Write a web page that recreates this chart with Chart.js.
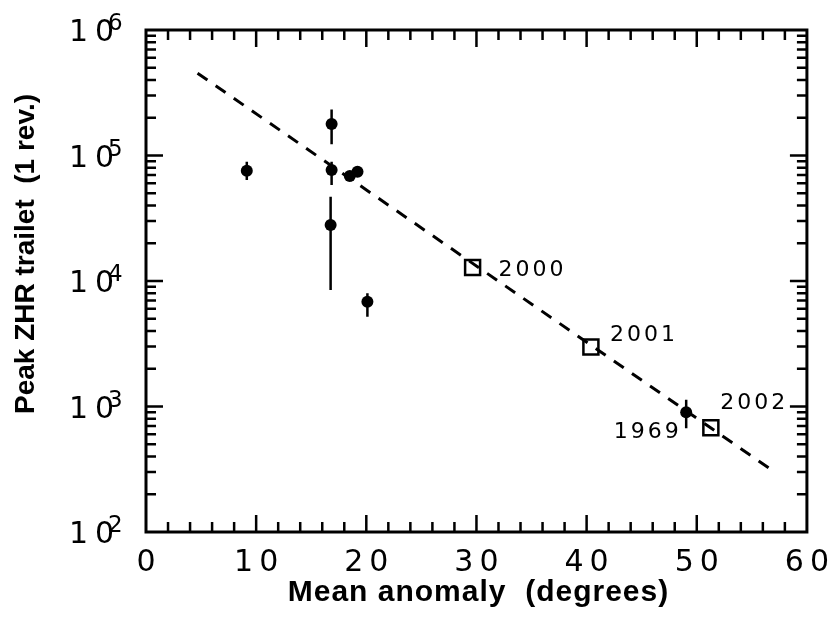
<!DOCTYPE html>
<html>
<head>
<meta charset="utf-8">
<script src="https://cdn.jsdelivr.net/npm/chart.js@4.4.1/dist/chart.umd.min.js"></script>
<style>
  html, body { margin: 0; padding: 0; background: #fff; }
  canvas { display: block; }
</style>
</head>
<body>
<canvas id="chart" width="839" height="622"></canvas>
<script>
// Observed trailet outbursts: mean anomaly (deg) against peak ZHR of the 1-revolution trailet
const obsAnomaly = [9.15, 16.85, 16.85, 16.76, 18.5, 19.2, 20.1, 49.04];
const obsZhr     = [75700, 178000, 76600, 27900, 68700, 74300, 6840, 899];
const obsZhrLow  = [63800, 123000, 58200, 8470, null, null, 5200, 670];
const obsZhrHigh = [89300, 233000, 89300, 47000, null, null, 7980, 1130];
const obsTags    = ['', '', '', '', '', '', '', '1969'];

// Predicted returns
const predYears   = ['2000', '2001', '2002'];
const predAnomaly = [29.65, 40.39, 51.28];
const predZhr     = [12800, 2980, 678];

// Fitted trend (straight line in log ZHR)
const trendAnomaly = [4.68, 56.67];
const trendZhr     = [452000, 318];

// Axis labelling
const xTitle = 'Mean anomaly  (degrees)';
const yTitle = 'Peak ZHR trailet  (1 rev.)';
const yTickExponents = [2, 3, 4, 5, 6];

const toPoints = (xs, ys) => xs.map((v, i) => ({ x: v, y: ys[i] }));

const LABEL_FONT = '"DejaVu Sans", "Liberation Sans", sans-serif';
const TITLE_FONT = '"Liberation Sans", Arial, Helvetica, sans-serif';

// Frame, inside tick marks, error bars, exponent tick labels and annotations
const framePlugin = {
  id: 'framePlugin',
  beforeDraw(chart) {
    // wider spacing for the numeric x tick labels drawn by the scale
    chart.ctx.letterSpacing = '6px';
  },
  beforeDatasetsDraw(chart) {
    const { ctx, scales: { x, y } } = chart;
    ctx.save();
    ctx.strokeStyle = '#000';
    ctx.lineWidth = 2.5;
    ctx.lineCap = 'butt';
    ctx.beginPath();
    obsAnomaly.forEach((a, i) => {
      if (obsZhrLow[i] == null) return;
      const px = x.getPixelForValue(a);
      ctx.moveTo(px, y.getPixelForValue(obsZhrLow[i]));
      ctx.lineTo(px, y.getPixelForValue(obsZhrHigh[i]));
    });
    ctx.stroke();
    ctx.restore();
  },
  afterDraw(chart) {
    const { ctx, chartArea: { left, right, top, bottom }, scales: { x, y } } = chart;
    ctx.save();
    ctx.letterSpacing = '0px';
    ctx.strokeStyle = '#000';
    ctx.fillStyle = '#000';

    // tick marks on all four sides, pointing inwards
    ctx.lineWidth = 2.5;
    ctx.beginPath();
    for (let v = x.min + 2; v < x.max; v += 2) {
      const px = x.getPixelForValue(v);
      const len = v % 10 === 0 ? 17 : 10;
      ctx.moveTo(px, bottom); ctx.lineTo(px, bottom - len);
      ctx.moveTo(px, top);    ctx.lineTo(px, top + len);
    }
    for (let e = 2; e < 6; e++) {
      for (let m = 1; m < 10; m++) {
        if (m === 1 && e === 2) continue;
        const py = y.getPixelForValue(m * Math.pow(10, e));
        const len = m === 1 ? 17 : 10;
        ctx.moveTo(left, py);  ctx.lineTo(left + len, py);
        ctx.moveTo(right, py); ctx.lineTo(right - len, py);
      }
    }
    ctx.stroke();

    ctx.lineWidth = 3;
    ctx.strokeRect(left, top, right - left, bottom - top);

    // y tick labels as powers of ten
    ctx.textAlign = 'left';
    ctx.textBaseline = 'alphabetic';
    yTickExponents.forEach(e => {
      const py = y.getPixelForValue(Math.pow(10, e));
      ctx.font = '30px ' + LABEL_FONT;
      ctx.letterSpacing = '7px';
      ctx.fillText('10', left - 77, py + 11);
      ctx.font = '23px ' + LABEL_FONT;
      ctx.letterSpacing = '0px';
      ctx.fillText(String(e), left - 38, py);
    });

    // year annotations
    ctx.font = '22px ' + LABEL_FONT;
    ctx.letterSpacing = '3px';
    const offsets = [[26, 8], [19, -6], [9.5, -19]];
    predYears.forEach((yr, i) => {
      const px = x.getPixelForValue(predAnomaly[i]);
      const py = y.getPixelForValue(predZhr[i]);
      ctx.textAlign = 'left';
      ctx.fillText(yr, px + offsets[i][0], py + offsets[i][1]);
    });
    obsTags.forEach((tag, i) => {
      if (!tag) return;
      const px = x.getPixelForValue(obsAnomaly[i]);
      const py = y.getPixelForValue(obsZhr[i]);
      ctx.textAlign = 'right';
      ctx.fillText(tag, px - 4.5, py + 26);
    });

    // axis titles
    ctx.letterSpacing = '1px';
    ctx.font = 'bold 30px ' + TITLE_FONT;
    ctx.textAlign = 'center';
    ctx.fillText(xTitle, (left + right) / 2 + 2, 601);

    ctx.letterSpacing = '0px';
    ctx.font = 'bold 28px ' + TITLE_FONT;
    ctx.translate(33.5, 254);
    ctx.rotate(-Math.PI / 2);
    ctx.fillText(yTitle, 0, 0);
    ctx.restore();
  }
};

new Chart(document.getElementById('chart'), {
  type: 'scatter',
  data: {
    datasets: [
      {
        label: 'Observed',
        data: toPoints(obsAnomaly, obsZhr),
        pointStyle: 'circle',
        pointRadius: 6,
        pointBackgroundColor: '#000',
        pointBorderWidth: 0
      },
      {
        label: 'Predicted',
        data: toPoints(predAnomaly, predZhr),
        pointStyle: 'rect',
        pointRadius: 10.6,
        pointBackgroundColor: 'rgba(0,0,0,0)',
        pointBorderColor: '#000',
        pointBorderWidth: 2.5
      },
      {
        label: 'Trend',
        data: toPoints(trendAnomaly, trendZhr),
        showLine: true,
        borderColor: '#000',
        borderWidth: 3,
        borderDash: [12, 10],
        pointRadius: 0,
        fill: false
      }
    ]
  },
  options: {
    responsive: false,
    animation: false,
    layout: { padding: { left: 0, right: 22.5, top: 30, bottom: 0 } },
    plugins: { legend: { display: false }, tooltip: { enabled: false } },
    scales: {
      x: {
        type: 'linear',
        min: 0,
        max: 60,
        grid: { display: false, drawTicks: false },
        border: { display: false },
        ticks: {
          stepSize: 10,
          autoSkip: false,
          maxRotation: 0,
          padding: 13,
          labelOffset: 3,
          color: '#000',
          font: { family: 'DejaVu Sans', size: 30 }
        },
        afterFit: s => { s.height = 90; }
      },
      y: {
        type: 'logarithmic',
        min: 100,
        max: 1000000,
        grid: { display: false, drawTicks: false },
        border: { display: false },
        ticks: { display: false },
        afterFit: s => { s.width = 146; }
      }
    }
  },
  plugins: [framePlugin]
});
</script>
</body>
</html>
